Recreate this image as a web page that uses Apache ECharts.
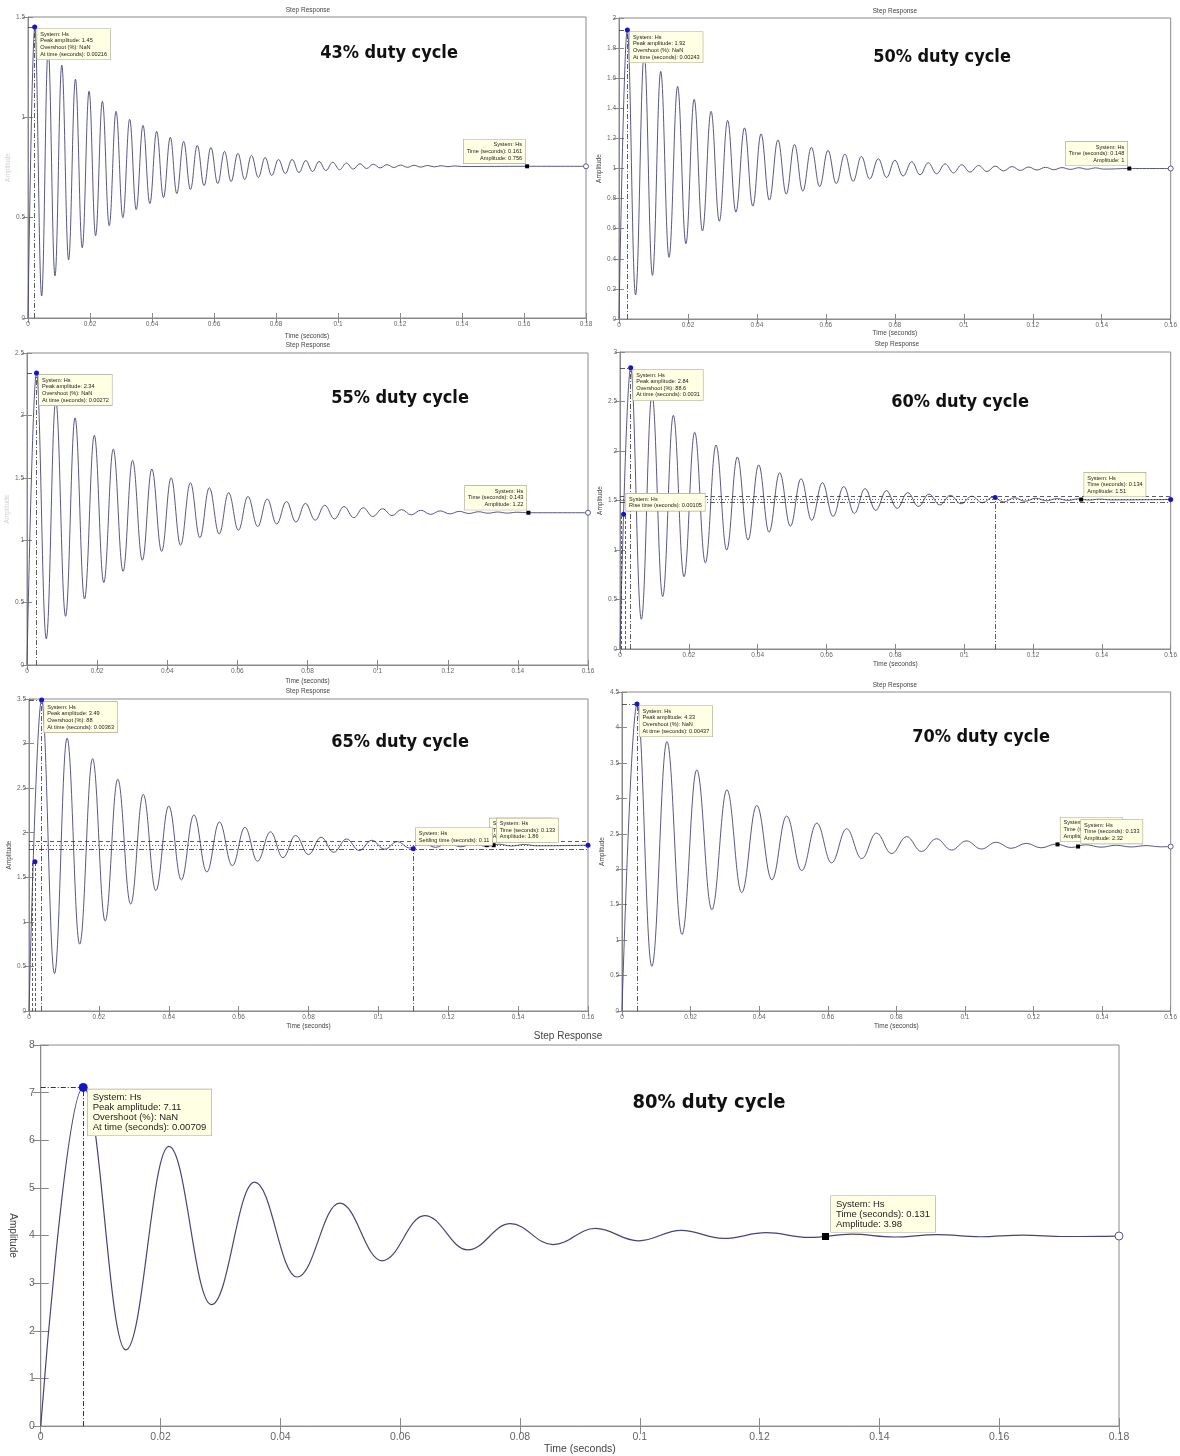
<!DOCTYPE html>
<html>
<head>
<meta charset="utf-8">
<script src="https://cdn.jsdelivr.net/npm/echarts@6/dist/echarts.min.js"></script>
<style>
html, body { margin: 0; padding: 0; background: #fff; }
#chart { width: 1180px; height: 1456px; }
</style>
</head>
<body>
<div id="chart"></div>
<script>
var t43 = [0, 0.0022, 0.0044, 0.0065, 0.0087, 0.0109, 0.0131, 0.0153, 0.0175, 0.0197, 0.0218, 0.0240, 0.0262, 0.0284, 0.0306, 0.0328, 0.0349, 0.0371, 0.0393, 0.0415, 0.0437, 0.0459, 0.0480, 0.0502, 0.0524, 0.0546, 0.0568, 0.0590, 0.0612, 0.0634, 0.0655, 0.0677, 0.0699, 0.0721, 0.0743, 0.0765, 0.0786, 0.0808, 0.0830, 0.0852, 0.0874, 0.0896, 0.0918, 0.0939, 0.0961, 0.0983, 0.1005, 0.1027, 0.1049, 0.1071, 0.1092, 0.1114, 0.1136, 0.1158, 0.1180, 0.1202, 0.1224, 0.1245, 0.1267, 0.1289, 0.1311, 0.1333, 0.1355, 0.1376, 0.1398, 0.161, 0.18];
var y43 = [0, 1.45, 0.11, 1.34, 0.21, 1.26, 0.29, 1.19, 0.35, 1.13, 0.41, 1.08, 0.46, 1.03, 0.50, 0.99, 0.54, 0.96, 0.57, 0.93, 0.60, 0.90, 0.62, 0.88, 0.64, 0.86, 0.66, 0.85, 0.67, 0.83, 0.68, 0.82, 0.69, 0.81, 0.70, 0.80, 0.71, 0.79, 0.72, 0.79, 0.725, 0.785, 0.73, 0.78, 0.735, 0.776, 0.739, 0.772, 0.742, 0.769, 0.745, 0.766, 0.748, 0.764, 0.75, 0.762, 0.751, 0.761, 0.752, 0.760, 0.753, 0.759, 0.754, 0.758, 0.755, 0.756, 0.756];

var t50 = [0, 0.0024, 0.0048, 0.0073, 0.0097, 0.0121, 0.0145, 0.0170, 0.0194, 0.0218, 0.0242, 0.0267, 0.0291, 0.0315, 0.0339, 0.0364, 0.0388, 0.0412, 0.0436, 0.0461, 0.0485, 0.0509, 0.0533, 0.0558, 0.0582, 0.0606, 0.0630, 0.0655, 0.0679, 0.0703, 0.0727, 0.0752, 0.0776, 0.0800, 0.0824, 0.0849, 0.0873, 0.0897, 0.0921, 0.0946, 0.0970, 0.0994, 0.1018, 0.1043, 0.1067, 0.1091, 0.1115, 0.1140, 0.1164, 0.1188, 0.1212, 0.1237, 0.1261, 0.1285, 0.1309, 0.1334, 0.1358, 0.1382, 0.1406, 0.148, 0.16];
var y50 = [0, 1.92, 0.16, 1.76, 0.29, 1.645, 0.41, 1.545, 0.50, 1.46, 0.585, 1.38, 0.65, 1.32, 0.71, 1.27, 0.75, 1.23, 0.79, 1.19, 0.83, 1.16, 0.85, 1.14, 0.88, 1.12, 0.90, 1.095, 0.915, 1.08, 0.93, 1.065, 0.94, 1.055, 0.95, 1.045, 0.958, 1.038, 0.965, 1.031, 0.971, 1.025, 0.976, 1.02, 0.98, 1.016, 0.984, 1.013, 0.987, 1.01, 0.99, 1.008, 0.992, 1.006, 0.994, 1.005, 0.995, 1.004, 0.996, 1.0, 1.0];

var t55 = [0, 0.0027, 0.0055, 0.0082, 0.0110, 0.0137, 0.0164, 0.0192, 0.0219, 0.0246, 0.0274, 0.0301, 0.0329, 0.0356, 0.0384, 0.0411, 0.0438, 0.0466, 0.0493, 0.0520, 0.0548, 0.0575, 0.0603, 0.0630, 0.0658, 0.0685, 0.0712, 0.0740, 0.0767, 0.0794, 0.0822, 0.0849, 0.0877, 0.0904, 0.0932, 0.0959, 0.0986, 0.1014, 0.1041, 0.1068, 0.1096, 0.1123, 0.1151, 0.1178, 0.1206, 0.1233, 0.1260, 0.1288, 0.1315, 0.1342, 0.1370, 0.1397, 0.143, 0.16];
var y55 = [0, 2.34, 0.21, 2.12, 0.39, 1.98, 0.53, 1.84, 0.66, 1.73, 0.75, 1.64, 0.84, 1.57, 0.91, 1.50, 0.96, 1.46, 1.02, 1.42, 1.05, 1.38, 1.08, 1.35, 1.11, 1.33, 1.13, 1.31, 1.145, 1.295, 1.16, 1.28, 1.17, 1.27, 1.18, 1.26, 1.19, 1.252, 1.197, 1.245, 1.203, 1.24, 1.207, 1.235, 1.211, 1.231, 1.214, 1.228, 1.216, 1.226, 1.217, 1.224, 1.22, 1.22];

var t60 = [0, 0.0031, 0.0062, 0.0093, 0.0124, 0.0155, 0.0186, 0.0217, 0.0248, 0.0279, 0.0310, 0.0341, 0.0372, 0.0403, 0.0433, 0.0464, 0.0495, 0.0526, 0.0557, 0.0588, 0.0619, 0.0650, 0.0681, 0.0712, 0.0743, 0.0774, 0.0805, 0.0836, 0.0867, 0.0898, 0.0929, 0.0960, 0.0991, 0.1022, 0.1053, 0.1084, 0.1115, 0.1146, 0.1177, 0.1208, 0.1239, 0.1270, 0.1301, 0.1332, 0.1362, 0.1393, 0.1424, 0.16];
var y60 = [0, 2.84, 0.30, 2.57, 0.53, 2.36, 0.73, 2.19, 0.87, 2.06, 1.00, 1.94, 1.10, 1.86, 1.18, 1.78, 1.24, 1.72, 1.30, 1.68, 1.34, 1.64, 1.37, 1.62, 1.40, 1.60, 1.42, 1.58, 1.44, 1.565, 1.455, 1.552, 1.467, 1.543, 1.477, 1.535, 1.485, 1.528, 1.492, 1.523, 1.497, 1.519, 1.501, 1.516, 1.504, 1.514, 1.506, 1.51];

var t65 = [0, 0.0036, 0.0073, 0.0109, 0.0145, 0.0182, 0.0218, 0.0254, 0.0291, 0.0327, 0.0363, 0.0400, 0.0436, 0.0472, 0.0509, 0.0545, 0.0582, 0.0618, 0.0654, 0.0691, 0.0727, 0.0763, 0.0800, 0.0836, 0.0872, 0.0909, 0.0945, 0.0981, 0.1018, 0.1054, 0.1090, 0.1127, 0.1163, 0.1200, 0.1236, 0.1272, 0.1309, 0.1345, 0.1381, 0.1418, 0.1454, 0.16];
var y65 = [0, 3.49, 0.42, 3.06, 0.75, 2.83, 1.01, 2.60, 1.20, 2.43, 1.35, 2.30, 1.47, 2.20, 1.56, 2.12, 1.63, 2.06, 1.68, 2.01, 1.72, 1.97, 1.755, 1.95, 1.78, 1.93, 1.80, 1.915, 1.815, 1.90, 1.828, 1.89, 1.836, 1.882, 1.842, 1.876, 1.847, 1.871, 1.851, 1.868, 1.853, 1.86];

var t70 = [0, 0.0044, 0.0087, 0.0131, 0.0175, 0.0218, 0.0262, 0.0306, 0.0349, 0.0393, 0.0437, 0.0480, 0.0524, 0.0568, 0.0611, 0.0655, 0.0699, 0.0742, 0.0786, 0.0830, 0.0873, 0.0917, 0.0961, 0.1004, 0.1048, 0.1091, 0.1135, 0.1179, 0.1222, 0.1266, 0.1310, 0.1353, 0.1397, 0.1441, 0.1484, 0.1528, 0.1571, 0.16];
var y70 = [0, 4.33, 0.63, 3.80, 1.08, 3.40, 1.43, 3.12, 1.67, 2.90, 1.85, 2.75, 1.98, 2.65, 2.09, 2.57, 2.15, 2.51, 2.22, 2.46, 2.25, 2.43, 2.27, 2.40, 2.285, 2.38, 2.295, 2.365, 2.302, 2.355, 2.307, 2.345, 2.311, 2.338, 2.314, 2.333, 2.316, 2.32];

var t80 = [0, 0.0071, 0.0142, 0.0214, 0.0285, 0.0357, 0.0428, 0.0499, 0.0570, 0.0641, 0.0713, 0.0784, 0.0855, 0.0926, 0.0998, 0.1069, 0.1140, 0.1211, 0.1283, 0.1354, 0.1425, 0.1496, 0.1568, 0.1639, 0.1710, 0.18];
var y80 = [0, 7.11, 1.60, 5.87, 2.55, 5.12, 3.13, 4.68, 3.47, 4.42, 3.70, 4.25, 3.81, 4.15, 3.89, 4.11, 3.94, 4.06, 3.96, 4.03, 3.97, 4.02, 3.975, 4.01, 3.98, 3.99];

// data tips: [time, amplitude]
var peak43 = [0.00216, 1.45], tip43 = [[0.161, 0.756]], end43 = [0.18, 0.756];
var peak50 = [0.00243, 1.92], tip50 = [[0.148, 1]], end50 = [0.16, 1];
var peak55 = [0.00272, 2.34], tip55 = [[0.143, 1.22]], end55 = [0.16, 1.22];
var peak60 = [0.0031, 2.84], tip60 = [[0.134, 1.51]], end60 = [0.16, 1.51];
var rise60 = [0.00105, 1.36], riseMarks60 = [0.0005, 0.0014], settle60 = [0.109, 1.53], band60 = [1.48, 1.51, 1.54];
var peak65 = [0.00363, 3.49], tip65 = [[0.131, 1.86], [0.133, 1.86]], end65 = [0.16, 1.86];
var riseMarks65 = [0.0008, 0.0017], riseDot65 = [0.0017, 1.674], settle65 = [0.11, 1.82], band65 = [1.82, 1.86, 1.90];
var peak70 = [0.00437, 4.33], tip70 = [[0.127, 2.35], [0.133, 2.32]], end70 = [0.16, 2.32];
var peak80 = [0.00709, 7.11], tip80 = [[0.131, 3.98]], end80 = [0.18, 3.99];
var overshoot = { '43': 'NaN', '50': 'NaN', '55': 'NaN', '60': '88.6', '65': '88', '70': 'NaN', '80': 'NaN' };

var panels = [
  { key: '43', t: t43, y: y43, xMax: 0.18, yMax: 1.5, yStep: 0.5, box: [28, 17, 558, 301], peak: peak43, tips: tip43, tipSide: 'left', end: end43, endFill: false, duty: [389, 53], head: [308, 10], xGap: 15, yGap: 14, yNameColor: '#d0d0d0' },
  { key: '50', t: t50, y: y50, xMax: 0.16, yMax: 2, yStep: 0.2, box: [619, 18, 553, 301], peak: peak50, tips: tip50, tipSide: 'left', end: end50, endFill: false, duty: [942, 57], head: [895, 11], xGap: 10.5, yGap: 13 },
  { key: '55', t: t55, y: y55, xMax: 0.16, yMax: 2.5, yStep: 0.5, box: [27, 353, 561, 312], peak: peak55, tips: tip55, tipSide: 'left', end: end55, endFill: false, duty: [400, 398], head: [308, 345], xGap: 12.5, yGap: 11, yNameColor: '#d0d0d0' },
  { key: '60', t: t60, y: y60, xMax: 0.16, yMax: 3, yStep: 0.5, box: [620, 352, 555, 297], peak: peak60, tips: tip60, tipSide: 'right', end: end60, endFill: true, duty: [960, 402], head: [897, 344], xGap: 11.5, yGap: 13 },
  { key: '65', t: t65, y: y65, xMax: 0.16, yMax: 3.5, yStep: 0.5, box: [29, 699, 559, 312], peak: peak65, tips: tip65, tipSide: 'right', end: end65, endFill: true, duty: [400, 742], head: [308, 691], xGap: 11.5, yGap: 12 },
  { key: '70', t: t70, y: y70, xMax: 0.16, yMax: 4.5, yStep: 0.5, box: [622, 692, 550, 319], peak: peak70, tips: tip70, tipSide: 'right', end: end70, endFill: false, duty: [981, 737], head: [895, 685], xGap: 11.5, yGap: 13 },
  { key: '80', t: t80, y: y80, xMax: 0.18, yMax: 8, yStep: 1, box: [36, 1045, 1083, 386], peak: peak80, tips: tip80, tipSide: 'right', end: end80, endFill: false, duty: [709, 1103], head: [568, 1036], xGap: 13, yGap: 15, big: true }
];

var curveColor = '#45457a';
var dotBlue = '#1515c8';
var dashDot = [5, 2, 1, 2];
var font = '"Liberation Sans", Arial, sans-serif';

function pairs(t, y) {
  var out = [];
  for (var i = 0; i < Math.min(t.length, y.length); i++) out.push([t[i], y[i]]);
  return out;
}

function boxLabel(text, big, side) {
  var s = big ? 9 : 5;
  var l = {
    show: true, formatter: text, fontFamily: font, color: '#222',
    fontSize: big ? 9.5 : 5.6, lineHeight: big ? 10 : 6.6,
    backgroundColor: '#ffffe4', borderColor: '#a8a890', borderWidth: 0.6,
    padding: big ? [3, 5] : [2, 3], align: 'left', verticalAlign: 'top'
  };
  if (side === 'peak') { l.position = [s, s / 2 + 2]; }
  else if (side === 'left') { l.position = [0, -1]; l.align = 'right'; l.verticalAlign = 'bottom'; }
  else { l.position = [s, -1]; l.verticalAlign = 'bottom'; }
  return l;
}

var option = { animation: false, backgroundColor: '#fff', grid: [], xAxis: [], yAxis: [], series: [], graphic: [] };

panels.forEach(function (p, i) {
  var big = !!p.big;
  var fs = big ? 10.5 : 6.5;
  var axisColor = '#8a8a8a';
  var tick = { show: true, inside: true, length: big ? 8 : 5, lineStyle: { color: axisColor } };

  option.grid.push({ left: p.box[0], top: p.box[1], width: p.box[2], height: p.box[3], show: true, borderColor: axisColor, borderWidth: 1, backgroundColor: '#fff' });

  option.xAxis.push({
    type: 'value', gridIndex: i, min: 0, max: p.xMax, interval: 0.02, position: 'bottom',
    axisLine: { show: true, onZero: false, lineStyle: { color: axisColor } }, axisTick: tick, splitLine: { show: false },
    axisLabel: { fontSize: fs, color: '#666', margin: big ? 6 : 3, fontFamily: font },
    name: 'Time (seconds)', nameLocation: 'middle', nameGap: p.xGap,
    nameTextStyle: { fontSize: big ? 10.5 : 6.5, color: '#444', fontFamily: font }
  });
  option.xAxis.push({
    type: 'value', gridIndex: i, min: 0, max: p.xMax, interval: 0.02, position: 'top',
    axisLine: { show: false }, axisTick: tick, axisLabel: { show: false }, splitLine: { show: false }
  });
  option.yAxis.push({
    type: 'value', gridIndex: i, min: 0, max: p.yMax, interval: p.yStep, position: 'left',
    axisLine: { show: true, onZero: false, lineStyle: { color: axisColor } }, axisTick: tick, splitLine: { show: false },
    axisLabel: { fontSize: fs, color: '#666', margin: big ? 6 : 3, fontFamily: font },
    name: 'Amplitude', nameLocation: 'middle', nameGap: p.yGap, nameRotate: big ? -90 : 90,
    nameTextStyle: { fontSize: big ? 10 : 6.5, color: p.yNameColor || '#444', fontFamily: font }
  });
  option.yAxis.push({
    type: 'value', gridIndex: i, min: 0, max: p.yMax, interval: p.yStep, position: 'right',
    axisLine: { show: false }, axisTick: tick, axisLabel: { show: false }, splitLine: { show: false }
  });

  var s = big ? 9 : 5;
  var points = [];
  points.push({
    coord: p.peak, symbol: 'circle', symbolSize: s, itemStyle: { color: dotBlue },
    label: boxLabel('System: Hs\nPeak amplitude: ' + p.peak[1] + '\nOvershoot (%): ' + overshoot[p.key] + '\nAt time (seconds): ' + p.peak[0], big, 'peak')
  });
  p.tips.forEach(function (tp) {
    points.push({
      coord: tp, symbol: 'rect', symbolSize: big ? 7 : 4, itemStyle: { color: '#000' },
      label: boxLabel('System: Hs\nTime (seconds): ' + tp[0] + '\nAmplitude: ' + tp[1], big, p.tipSide)
    });
  });
  points.push({
    coord: p.end, symbol: 'circle', symbolSize: big ? 8 : 5,
    itemStyle: p.endFill ? { color: dotBlue } : { color: '#fff', borderColor: '#5555a0', borderWidth: 1 },
    label: { show: false }
  });

  var lines = [
    [{ coord: [p.peak[0], 0] }, { coord: p.peak }],
    [{ coord: [0, p.peak[1]] }, { coord: p.peak }]
  ];

  if (p.key === '60') {
    points.push({ coord: rise60, symbol: 'circle', symbolSize: s, itemStyle: { color: dotBlue },
      label: boxLabel('System: Hs\nRise time (seconds): ' + rise60[0], false, 'right') });
    points.push({ coord: settle60, symbol: 'circle', symbolSize: s, itemStyle: { color: dotBlue }, label: { show: false } });
    riseMarks60.forEach(function (m) { lines.push([{ coord: [m, 0], lineStyle: { type: [3, 2] } }, { coord: [m, rise60[1]] }]); });
    lines.push([{ coord: [settle60[0], 0] }, { coord: settle60 }]);
    lines.push({ yAxis: band60[0], lineStyle: { type: dashDot } });
    lines.push({ yAxis: band60[1], lineStyle: { type: [1, 2] } });
    lines.push({ yAxis: band60[2], lineStyle: { type: [4, 3] } });
  }
  if (p.key === '65') {
    points.push({ coord: riseDot65, symbol: 'circle', symbolSize: s, itemStyle: { color: dotBlue }, label: { show: false } });
    points.push({ coord: settle65, symbol: 'circle', symbolSize: s, itemStyle: { color: dotBlue },
      label: boxLabel('System: Hs\nSettling time (seconds): ' + settle65[0], false, 'right') });
    riseMarks65.forEach(function (m) { lines.push([{ coord: [m, 0], lineStyle: { type: [3, 2] } }, { coord: [m, riseDot65[1]] }]); });
    lines.push([{ coord: [settle65[0], 0] }, { coord: settle65 }]);
    lines.push({ yAxis: band65[0], lineStyle: { type: dashDot } });
    lines.push({ yAxis: band65[1], lineStyle: { type: [1, 2] } });
    lines.push({ yAxis: band65[2], lineStyle: { type: [4, 3] } });
  }

  option.series.push({
    type: 'line', xAxisIndex: 2 * i, yAxisIndex: 2 * i,
    data: pairs(p.t, p.y), showSymbol: false, smooth: 0.4, smoothMonotone: 'x',
    lineStyle: { color: curveColor, width: big ? 1.2 : 0.9 },
    markLine: {
      silent: true, symbol: ['none', 'none'], label: { show: false },
      lineStyle: { color: '#333', width: big ? 1 : 0.8, type: dashDot },
      data: lines
    },
    markPoint: { silent: true, data: points }
  });

  option.graphic.push({
    type: 'text', x: p.head[0], y: p.head[1], z: 10,
    style: { text: 'Step Response', fill: '#444', fontSize: big ? 10 : 6.5, fontFamily: font,
      align: 'center', verticalAlign: 'middle', textAlign: 'center', textVerticalAlign: 'middle' }
  });
  option.graphic.push({
    type: 'text', x: p.duty[0], y: p.duty[1], z: 10,
    style: { text: p.key + '% duty cycle', fill: '#111', fontSize: big ? 20 : 18, fontWeight: 'bold',
      fontFamily: '"Liberation Sans Narrow", "DejaVu Sans Condensed", "Open Sans", sans-serif',
      align: 'center', verticalAlign: 'middle', textAlign: 'center', textVerticalAlign: 'middle' }
  });
});

var chart = echarts.init(document.getElementById('chart'), null, { renderer: 'canvas' });
chart.setOption(option);
</script>
</body>
</html>
